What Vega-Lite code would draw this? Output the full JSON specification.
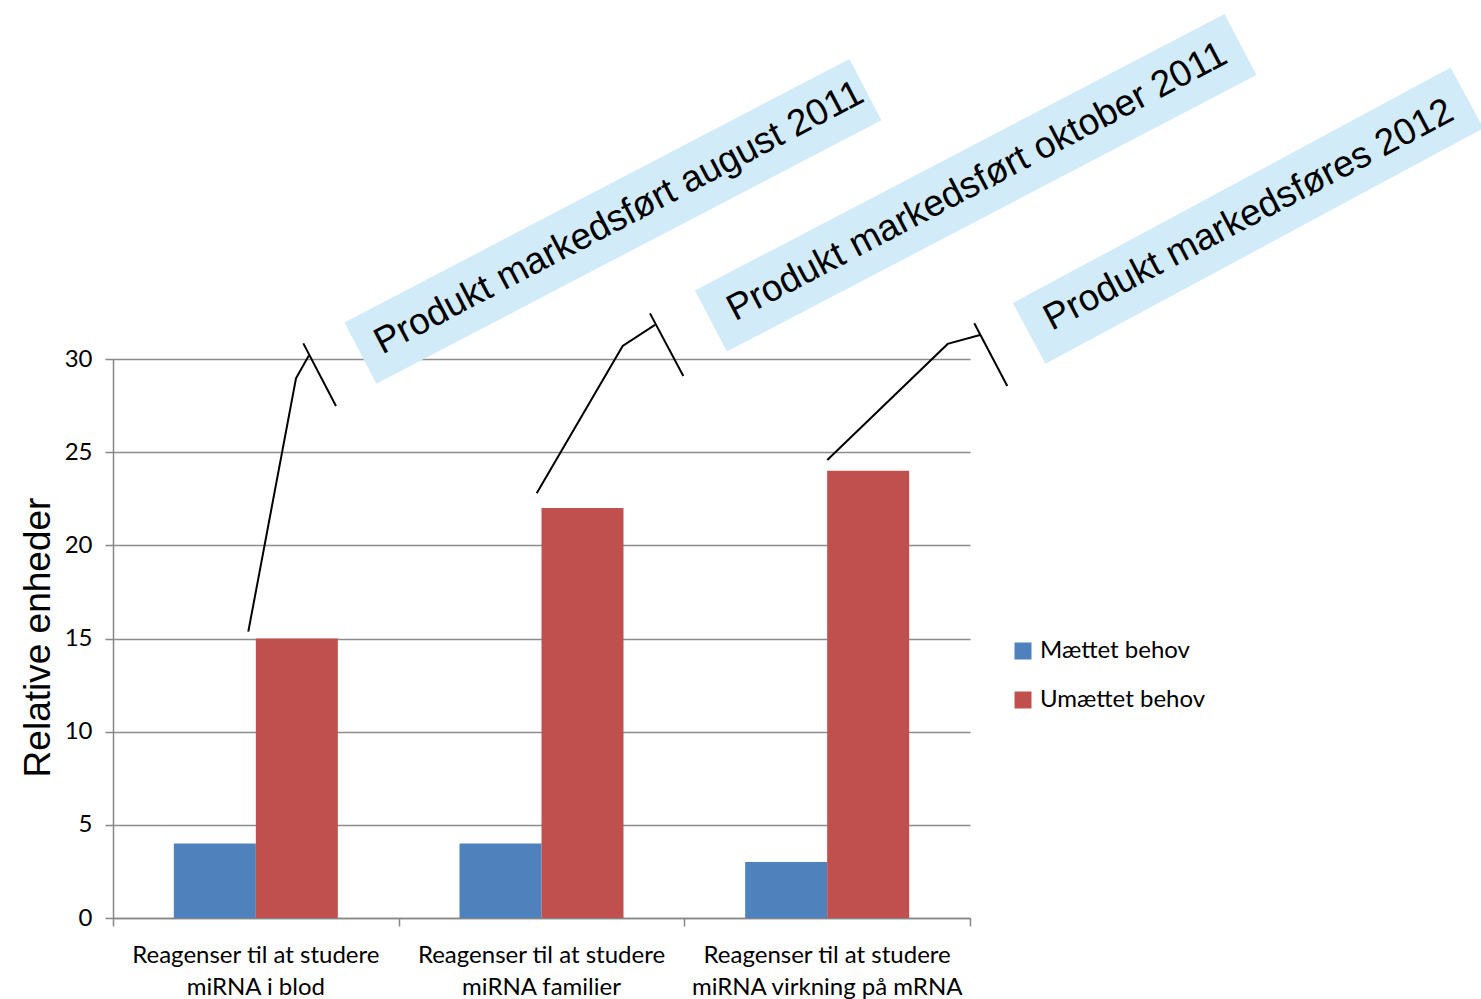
{
  "$schema": "https://vega.github.io/schema/vega-lite/v6.json",
  "width": 857,
  "height": 559,
  "autosize": {"type": "none"},
  "padding": {"left": 113, "top": 359, "right": 511, "bottom": 81},
  "background": "white",
  "config": {"view": {"stroke": null}, "font": "Lato"},
  "datasets": {
    "bars": [
      {"kategori": "Reagenser til at studere miRNA i blod", "serie": "Mættet behov", "verdi": 4},
      {"kategori": "Reagenser til at studere miRNA i blod", "serie": "Umættet behov", "verdi": 15},
      {"kategori": "Reagenser til at studere miRNA familier", "serie": "Mættet behov", "verdi": 4},
      {"kategori": "Reagenser til at studere miRNA familier", "serie": "Umættet behov", "verdi": 22},
      {"kategori": "Reagenser til at studere miRNA virkning på mRNA", "serie": "Mættet behov", "verdi": 3},
      {"kategori": "Reagenser til at studere miRNA virkning på mRNA", "serie": "Umættet behov", "verdi": 24}
    ],
    "boxes": [
      {"id": 1, "k": 0, "x": 0.866, "y": 30.32},
      {"id": 1, "k": 1, "x": 2.634, "y": 44.46},
      {"id": 2, "k": 0, "x": 2.093, "y": 32.04},
      {"id": 2, "k": 1, "x": 3.947, "y": 46.88},
      {"id": 3, "k": 0, "x": 3.207, "y": 31.37},
      {"id": 3, "k": 1, "x": 4.74, "y": 44.01}
    ],
    "labels": [
      {"x": 1.771, "y": 37.57, "tekst": "Produkt markedsført august 2011"},
      {"x": 3.025, "y": 39.5, "tekst": "Produkt markedsført oktober 2011"},
      {"x": 3.976, "y": 37.72, "tekst": "Produkt markedsføres 2012"}
    ],
    "callouts": [
      {"seg": 1, "k": 0, "x": 0.4736, "y": 15.37},
      {"seg": 1, "k": 1, "x": 0.6406, "y": 28.96},
      {"seg": 1, "k": 2, "x": 0.6851, "y": 30.18},
      {"seg": 2, "k": 0, "x": 0.6662, "y": 30.84},
      {"seg": 2, "k": 1, "x": 0.7806, "y": 27.48},
      {"seg": 3, "k": 0, "x": 1.4832, "y": 22.79},
      {"seg": 3, "k": 1, "x": 1.7842, "y": 30.7},
      {"seg": 3, "k": 2, "x": 1.8973, "y": 31.83},
      {"seg": 4, "k": 0, "x": 1.8798, "y": 32.45},
      {"seg": 4, "k": 1, "x": 1.9964, "y": 29.09},
      {"seg": 5, "k": 0, "x": 2.5004, "y": 24.58},
      {"seg": 5, "k": 1, "x": 2.9219, "y": 30.81},
      {"seg": 5, "k": 2, "x": 3.035, "y": 31.29},
      {"seg": 6, "k": 0, "x": 3.015, "y": 31.92},
      {"seg": 6, "k": 1, "x": 3.1305, "y": 28.55}
    ]
  },
  "layer": [
    {
      "data": {"name": "bars"},
      "mark": {"type": "bar", "strokeWidth": 0},
      "encoding": {
        "x": {
          "field": "kategori", "type": "nominal", "sort": null,
          "scale": {"paddingInner": 0, "paddingOuter": 0},
          "axis": {
            "title": null, "orient": "bottom", "ticks": false, "labelAngle": 0,
            "labelExpr": "['Reagenser til at studere', substring(datum.label, 25)]",
            "labelFont": "Lato", "labelFontSize": 24, "labelColor": "black",
            "labelLineHeight": 32, "labelPadding": 25, "labelLimit": 0,
            "domainColor": "#868686", "domainWidth": 1.5
          }
        },
        "xOffset": {
          "field": "serie", "type": "nominal",
          "scale": {"paddingInner": 0, "paddingOuter": 0.742}
        },
        "y": {
          "field": "verdi", "type": "quantitative",
          "scale": {"domain": [0, 30], "nice": false},
          "axis": {
            "title": "Relative enheder", "values": [0, 5, 10, 15, 20, 25, 30],
            "grid": true, "gridColor": "#8C8C8C", "gridWidth": 1.5,
            "tickSize": 8, "tickColor": "#868686", "tickWidth": 1.5,
            "domainColor": "#868686", "domainWidth": 1.5,
            "labelFont": "Lato", "labelFontSize": 24, "labelColor": "black", "labelPadding": 13,
            "titleFont": "Liberation Sans", "titleFontSize": 37, "titleFontWeight": "normal",
            "titleColor": "black", "titleX": -64, "titleY": 278, "titleAngle": 270,
            "titleBaseline": "alphabetic", "titleAlign": "center"
          }
        },
        "color": {
          "field": "serie", "type": "nominal",
          "scale": {"domain": ["Mættet behov", "Umættet behov"], "range": ["#4F81BD", "#C0504D"]},
          "legend": {
            "title": null, "orient": "none", "legendX": 898, "legendY": 280,
            "symbolType": "square", "symbolSize": 289, "symbolStrokeWidth": 0,
            "labelFont": "Lato", "labelFontSize": 24, "labelColor": "black", "labelLimit": 0,
            "rowPadding": 25, "labelOffset": 5, "padding": 0
          }
        }
      }
    },
    {
      "data": {"name": "boxes"},
      "mark": {"type": "line", "strokeWidth": 69, "strokeCap": "butt", "color": "#D2EBF9"},
      "encoding": {
        "x": {"field": "x", "type": "quantitative", "scale": {"domain": [0, 3], "nice": false, "zero": false}, "axis": null},
        "y": {"field": "y", "type": "quantitative", "scale": {"domain": [0, 30], "nice": false}},
        "detail": {"field": "id", "type": "nominal"},
        "order": {"field": "k", "type": "quantitative"}
      }
    },
    {
      "data": {"name": "labels"},
      "mark": {"type": "text", "angle": 332.3, "font": "Liberation Sans", "fontSize": 37, "align": "center", "baseline": "middle", "color": "black"},
      "encoding": {
        "x": {"field": "x", "type": "quantitative", "scale": {"domain": [0, 3], "nice": false, "zero": false}, "axis": null},
        "y": {"field": "y", "type": "quantitative", "scale": {"domain": [0, 30], "nice": false}},
        "text": {"field": "tekst"}
      }
    },
    {
      "data": {"name": "callouts"},
      "mark": {"type": "line", "strokeWidth": 2, "color": "black"},
      "encoding": {
        "x": {
          "field": "x", "type": "quantitative", "scale": {"domain": [0, 3], "nice": false, "zero": false},
          "axis": {
            "orient": "bottom", "values": [0, 1, 2, 3], "labels": false, "ticks": true,
            "tickSize": 8, "tickColor": "#868686", "tickWidth": 1.5,
            "domain": false, "grid": false, "title": null
          }
        },
        "y": {"field": "y", "type": "quantitative", "scale": {"domain": [0, 30], "nice": false}},
        "detail": {"field": "seg", "type": "nominal"},
        "order": {"field": "k", "type": "quantitative"}
      }
    }
  ],
  "resolve": {"scale": {"x": "independent"}}
}
